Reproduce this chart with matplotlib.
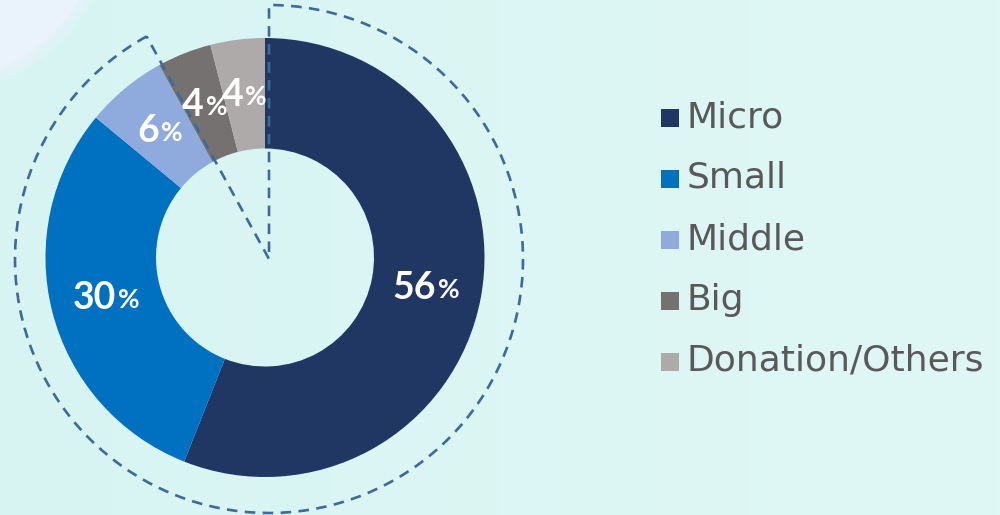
import numpy as np
import matplotlib.pyplot as plt
from matplotlib.patches import Wedge, Circle, Rectangle
from matplotlib.colors import LinearSegmentedColormap

categorias = ['Micro', 'Small', 'Middle', 'Big', 'Donation/Others']
porcentajes = [56, 30, 6, 4, 4]
colores = ['#213763', '#0070C0', '#8FAADC', '#767171', '#AEAAAA']

W, H = 1000, 515

def y_(y):
    # coordenadas de imagen (y hacia abajo) -> datos
    return H - y

fig = plt.figure(figsize=(10, 5.15), dpi=100)
ax = fig.add_axes([0, 0, 1, 1])

# Fondo con degradado suave
grad = np.linspace(0, 1, 256).reshape(1, -1)
cmap_fondo = LinearSegmentedColormap.from_list('fondo', ['#D7F4F3', '#E0F8F5'])
ax.imshow(grad, extent=(0, W, 0, H), cmap=cmap_fondo, aspect='auto', zorder=0)
for k, a in zip([186, 180, 174], [0.35, 0.5, 1.0]):
    ax.add_patch(Circle((-70, y_(-90)), k, color='#EAF2FB', alpha=a, zorder=0.5, lw=0))

# Donut
centro = (265, y_(257.5))
radio = 219.5
ancho = 110.5
wedges, _ = ax.pie(porcentajes, colors=colores, startangle=90, counterclock=False,
                   radius=radio, center=centro,
                   wedgeprops=dict(width=ancho, linewidth=0))
for w in wedges:
    w.set_zorder(2)

# Sector discontinuo (Micro + Small + Middle)
acumulado = sum(porcentajes[:3]) / sum(porcentajes) * 360
borde = Wedge((269, y_(259)), 254, 90 - acumulado, 90, fill=False,
              edgecolor='#3D6A9C', linewidth=1.9, linestyle=(0, (4, 2.8)), zorder=3)
ax.add_patch(borde)

# Etiquetas de porcentaje
r_medio = radio - ancho / 2
fig.canvas.draw()
renderer = fig.canvas.get_renderer()
for w, p in zip(wedges, porcentajes):
    ang = np.deg2rad((w.theta1 + w.theta2) / 2)
    x = centro[0] + r_medio * np.cos(ang)
    y = centro[1] + r_medio * np.sin(ang)
    t_num = ax.text(x, y, f'{p}', color='white', fontsize=27, fontweight='bold',
                    family='Lato', ha='left', va='center', zorder=4)
    t_pct = ax.text(x, y - 2, '%', color='white', fontsize=19, fontweight='bold',
                    family='Lato', ha='left', va='center', zorder=4)
    w_num = t_num.get_window_extent(renderer).width
    w_pct = t_pct.get_window_extent(renderer).width
    total = w_num + 2 + w_pct
    t_num.set_x(x - total / 2)
    t_pct.set_x(x - total / 2 + w_num + 2)

# Leyenda
for i, (cat, col) in enumerate(zip(categorias, colores)):
    yc = 118 + 61 * i
    ax.add_patch(Rectangle((661, y_(yc + 9)), 18, 18, color=col, lw=0, zorder=3))
    ax.text(687, y_(yc + 9), cat, color='#595959', fontsize=26, family='DejaVu Sans',
            ha='left', va='baseline', zorder=3)

ax.set_xlim(0, W)
ax.set_ylim(0, H)
ax.set_aspect('auto')
ax.axis('off')

fig.savefig('out.png', dpi=100)
